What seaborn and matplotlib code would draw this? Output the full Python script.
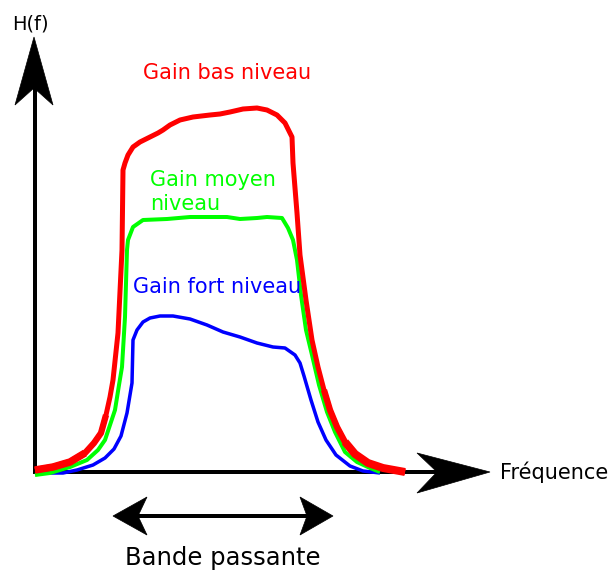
import matplotlib
matplotlib.use("Agg")
import matplotlib.pyplot as plt
import seaborn as sns
from matplotlib.patches import Polygon

# ---------------- data (frequency in px-like units, gain upward) ----------------
red_freq = [35, 53, 70, 85, 94, 101, 106, 110, 113, 118, 122, 123, 125, 128, 133, 140, 150, 158,
            163, 170, 180, 193, 210, 220, 230, 243, 257, 267, 277, 285, 292, 293, 297, 300, 306,
            312, 318, 324, 330, 337, 345, 355, 368, 383, 405]
red_gain = [2, 5, 10, 19, 29, 39, 57, 75, 92, 139, 222, 302, 309, 317, 325, 330, 335, 339,
            342, 347, 352, 355, 357, 358, 360, 363, 364, 362, 357, 349, 335, 309, 259, 217, 172,
            132, 105, 82, 62, 45, 30, 18, 9, 4, 0]

green_freq = [35, 50, 70, 87, 98, 105, 110, 115, 119, 122, 125, 127, 128, 133, 143, 167, 190, 210,
              227, 240, 257, 267, 282, 288, 293, 297, 301, 306, 312, 319, 327, 335, 345, 357, 370,
              380]
green_gain = [-3, -1, 5, 12, 22, 32, 47, 62, 87, 105, 155, 222, 232, 245, 252, 253, 255, 255,
              255, 253, 254, 255, 254, 244, 232, 212, 177, 142, 117, 87, 60, 40, 20, 10, 4,
              0]

blue_freq = [40, 63, 77, 93, 105, 114, 121, 127, 130, 132, 133, 137, 143, 150, 160, 173, 190, 207,
             223, 240, 257, 273, 285, 295, 300, 304, 311, 318, 326, 336, 350, 363, 380]
blue_gain = [-1, -1, 2, 7, 14, 23, 36, 59, 77, 89, 132, 142, 150, 154, 156, 156, 153, 147,
             140, 135, 129, 125, 124, 117, 109, 96, 72, 50, 32, 17, 6, 1, -1]

labels = ["Gain bas niveau", "Gain moyen\nniveau", "Gain fort niveau"]
axis_labels = ["H(f)", "Fréquence", "Bande passante"]

# ---------------- figure ----------------
sns.set_theme(style="white")
plt.rcParams['font.family'] = ['DejaVu Sans']
fig = plt.figure(figsize=(6.1, 5.75), dpi=100)
ax = fig.add_axes([0, 0, 1, 1])
ax.set_xlim(0, 610)
ax.set_ylim(-103, 472)
ax.axis("off")

PX = 72 / 100.0  # points per pixel

# axes lines
ax.plot([35, 35], [0, 472 - 88], color="black", lw=4 * PX, solid_capstyle="butt")
ax.plot([33, 437], [0, 0], color="black", lw=4 * PX, solid_capstyle="butt")

# vertical axis arrow head
ax.add_patch(Polygon([(34, 472 - 37), (15, 472 - 105), (34, 472 - 88), (53, 472 - 105)],
                     closed=True, fc="black", ec="black", lw=0.5))
# horizontal axis arrow head
ax.add_patch(Polygon([(490, 0), (417, 472 - 453), (437, 0), (417, 472 - 493)],
                     closed=True, fc="black", ec="black", lw=0.5))

# double arrow (bande passante)
yb = 472 - 516
ax.plot([136, 309], [yb, yb], color="black", lw=4 * PX, solid_capstyle="butt")
ax.add_patch(Polygon([(113, yb), (147, yb + 19), (138, yb), (147, yb - 19)],
                     closed=True, fc="black", ec="black", lw=0.5))
ax.add_patch(Polygon([(333, yb), (300, yb + 19), (307, yb), (300, yb - 19)],
                     closed=True, fc="black", ec="black", lw=0.5))

kw = dict(sort=False, estimator=None, ax=ax, solid_capstyle="butt", solid_joinstyle="round")

# curves
sns.lineplot(x=blue_freq, y=blue_gain, color="#0000ff", linewidth=3.5 * PX, **kw)
sns.lineplot(x=green_freq, y=green_gain, color="#00ff00", linewidth=4 * PX, **kw)
sns.lineplot(x=red_freq, y=red_gain, color="#ff0000", linewidth=5 * PX, **kw)
# progressively thicker tails of the red stroke
sns.lineplot(x=red_freq[:7], y=red_gain[:7], color="#ff0000", linewidth=6.3 * PX, **kw)
sns.lineplot(x=red_freq[:4], y=red_gain[:4], color="#ff0000", linewidth=7.5 * PX, **kw)
sns.lineplot(x=red_freq[-8:], y=red_gain[-8:], color="#ff0000", linewidth=6.3 * PX, **kw)
sns.lineplot(x=red_freq[-5:], y=red_gain[-5:], color="#ff0000", linewidth=8 * PX, **kw)

# texts
ax.text(143, 472 - 73, labels[0], color="#ff0000", fontsize=15, ha="left", va="center")
ax.text(150, 472 - 192, labels[1], color="#00ff00", fontsize=15, ha="left", va="center",
        linespacing=1.25)
ax.text(133, 472 - 287, labels[2], color="#0000ff", fontsize=15, ha="left", va="center")
ax.text(30, 472 - 24, axis_labels[0], color="black", fontsize=14, ha="center", va="center")
ax.text(500, 472 - 472, axis_labels[1], color="black", fontsize=15, ha="left", va="center")
ax.text(223, 472 - 558, axis_labels[2], color="black", fontsize=17.5, ha="center", va="center")

fig.savefig("out.png", dpi=100, facecolor="white")
